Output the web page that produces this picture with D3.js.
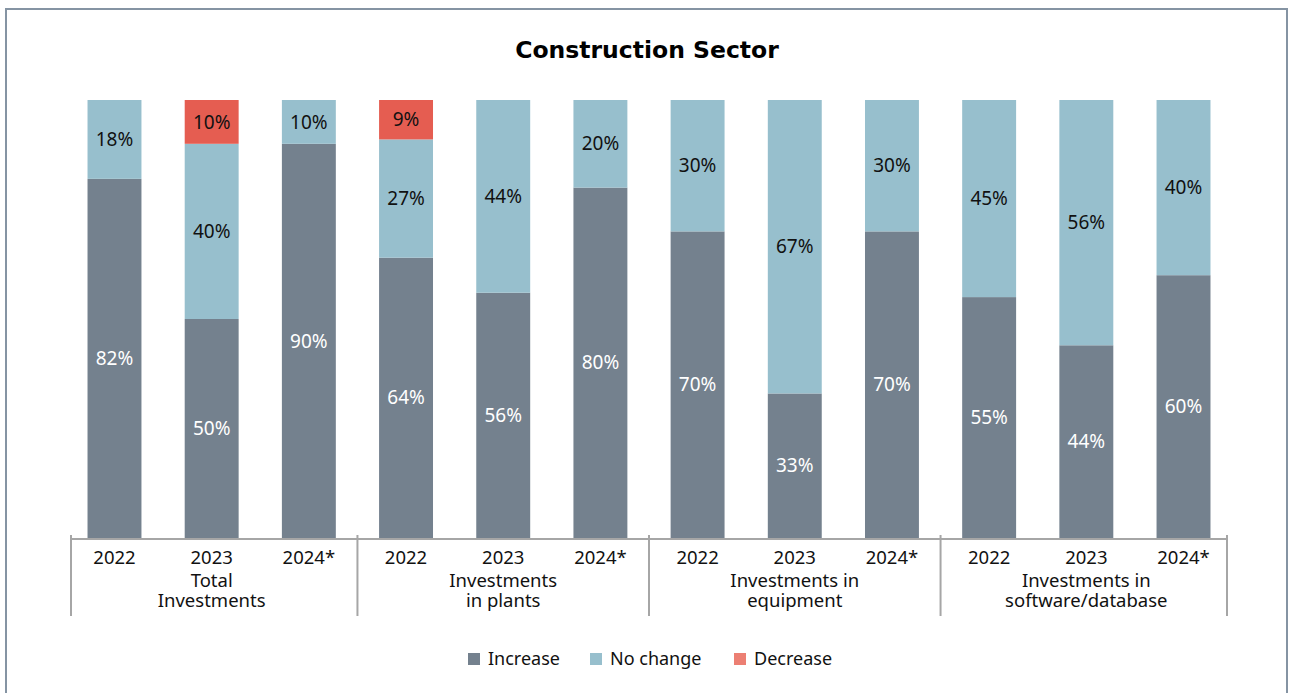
<!DOCTYPE html>
<html>
<head>
<meta charset="utf-8">
<title>Construction Sector</title>
<style>
  body { margin: 0; background: #fff; }
  svg { display: block; }
</style>
</head>
<body>
<script src="https://d3js.org/d3.v7.min.js"></script>
<script>
// chart data
var groups = ["Total\nInvestments", "Investments\nin plants", "Investments in\nequipment", "Investments in\nsoftware/database"];
var years = ["2022", "2023", "2024*"];
var increase  = [82, 50, 90, 64, 56, 80, 70, 33, 70, 55, 44, 60];
var noChange  = [18, 40, 10, 27, 44, 20, 30, 67, 30, 45, 56, 40];
var decrease  = [0, 10, 0, 9, 0, 0, 0, 0, 0, 0, 0, 0];
var seriesNames = ["Increase", "No change", "Decrease"];
var colors = ["#74818e", "#97bfcd", "#e55d51"];
var legendColors = ["#74818e", "#97bfcd", "#ec7f73"];

var width = 1290, height = 693;
var font = "Noto Sans";

var svg = d3.select("body").append("svg")
  .attr("width", width).attr("height", height);

// frame (no bottom edge visible)
svg.append("path")
  .attr("d", "M6,693 V9 H1287 V693")
  .attr("fill", "none").attr("stroke", "#8594a3").attr("stroke-width", 2);

svg.append("text")
  .attr("x", 647).attr("y", 58)
  .attr("text-anchor", "middle")
  .attr("font-family", "DejaVu Sans")
  .attr("font-weight", "bold")
  .attr("font-size", 23.5)
  .attr("fill", "#000")
  .text("Construction Sector");

// one row per bar
var rows = increase.map(function(v, i) {
  return { id: i, group: Math.floor(i / 3), year: years[i % 3],
           "Increase": v, "No change": noChange[i], "Decrease": decrease[i] };
});

var x = d3.scaleBand()
  .domain(rows.map(function(d) { return d.id; }))
  .range([71, 1227])
  .paddingInner(0.445)
  .paddingOuter(0.17);

var y = d3.scaleLinear().domain([0, 100]).range([538, 100]);

var stack = d3.stack().keys(seriesNames);
var layers = stack(rows);

var layer = svg.selectAll("g.layer").data(layers).enter()
  .append("g").attr("class", "layer")
  .attr("fill", function(d, i) { return colors[i]; });

layer.selectAll("rect").data(function(d) { return d; }).enter()
  .append("rect")
  .attr("x", function(d) { return x(d.data.id); })
  .attr("width", x.bandwidth())
  .attr("y", function(d) { return y(d[1]); })
  .attr("height", function(d) { return y(d[0]) - y(d[1]); });

// value labels
layers.forEach(function(l, li) {
  svg.append("g").selectAll("text")
    .data(l.filter(function(d) { return d[1] - d[0] > 0; }))
    .enter().append("text")
    .attr("x", function(d) { return x(d.data.id) + x.bandwidth() / 2; })
    .attr("y", function(d) { return (y(d[0]) + y(d[1])) / 2; })
    .attr("dy", "0.35em")
    .attr("text-anchor", "middle")
    .attr("font-family", font)
    .attr("font-size", 19)
    .attr("fill", li === 0 ? "#fff" : "#111")
    .text(function(d) { return (d[1] - d[0]) + "%"; });
});

// category axis
var axisG = svg.append("g");
axisG.append("line")
  .attr("x1", 71).attr("x2", 1227).attr("y1", 539).attr("y2", 539)
  .attr("stroke", "#a6a6a6").attr("stroke-width", 2);

var seps = [71];
for (var g = 1; g < groups.length; g++) {
  seps.push((x(g * 3 - 1) + x.bandwidth() + x(g * 3)) / 2);
}
seps.push(1227);
axisG.selectAll("line.sep").data(seps).enter()
  .append("line").attr("class", "sep")
  .attr("x1", function(d) { return d; }).attr("x2", function(d) { return d; })
  .attr("y1", 535).attr("y2", 616)
  .attr("stroke", "#a6a6a6").attr("stroke-width", 2);

axisG.selectAll("text.year").data(rows).enter()
  .append("text").attr("class", "year")
  .attr("x", function(d) { return x(d.id) + x.bandwidth() / 2; })
  .attr("y", 564)
  .attr("text-anchor", "middle")
  .attr("font-family", font)
  .attr("font-size", 18.5)
  .attr("fill", "#111")
  .text(function(d) { return d.year; });

groups.forEach(function(name, gi) {
  var cx = x(gi * 3 + 1) + x.bandwidth() / 2;
  var t = axisG.append("text")
    .attr("text-anchor", "middle")
    .attr("font-family", font)
    .attr("font-size", 18.5)
    .attr("fill", "#111");
  name.split("\n").forEach(function(line, li) {
    t.append("tspan").attr("x", cx).attr("y", 587 + li * 20).text(line);
  });
});

// legend
var legendX = [468, 590, 734];
var leg = svg.selectAll("g.legend").data(seriesNames).enter()
  .append("g").attr("class", "legend")
  .attr("transform", function(d, i) { return "translate(" + legendX[i] + ",653)"; });
leg.append("rect").attr("width", 12).attr("height", 12)
  .attr("fill", function(d, i) { return legendColors[i]; });
leg.append("text").attr("x", 20).attr("y", 6).attr("dy", "0.35em")
  .attr("font-family", font).attr("font-size", 18).attr("fill", "#111")
  .text(function(d) { return d; });
</script>
</body>
</html>
